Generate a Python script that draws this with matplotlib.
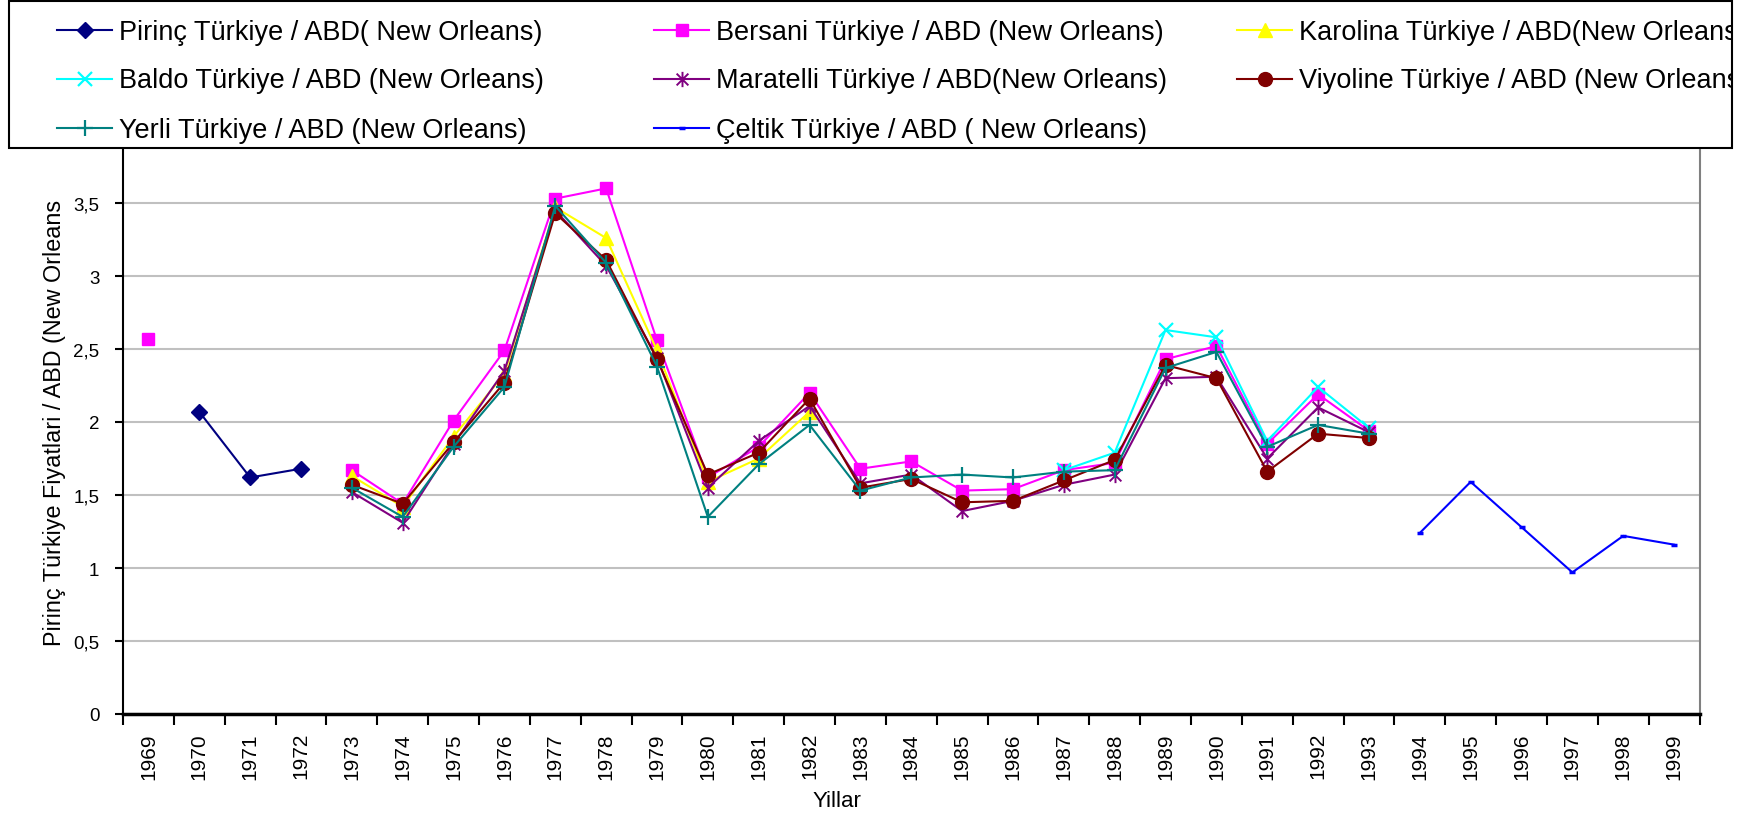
import matplotlib
matplotlib.use("Agg")
import matplotlib.pyplot as plt
import numpy as np
from matplotlib.lines import Line2D
from matplotlib.patches import Rectangle
from matplotlib.path import Path

plt.rcParams['font.family'] = ['Liberation Sans', 'DejaVu Sans']

nan = np.nan
years = ["1969", "1970", "1971", "1972", "1973", "1974", "1975", "1976", "1977", "1978",
         "1979", "1980", "1981", "1982", "1983", "1984", "1985", "1986", "1987", "1988",
         "1989", "1990", "1991", "1992", "1993", "1994", "1995", "1996", "1997", "1998", "1999"]

# values per year, nan = no data
pirinc = [nan, 2.07, 1.62, 1.68, nan, nan, nan, nan, nan, nan,
          nan, nan, nan, nan, nan, nan, nan, nan, nan, nan,
          nan, nan, nan, nan, nan, nan, nan, nan, nan, nan, nan]
bersani = [2.57, nan, nan, nan, 1.67, 1.44, 2.01, 2.49, 3.53, 3.60,
           2.56, 1.62, 1.83, 2.20, 1.68, 1.73, 1.53, 1.54, 1.67, 1.72,
           2.43, 2.52, 1.85, 2.19, 1.94, nan, nan, nan, nan, nan, nan]
karolina = [nan, nan, nan, nan, 1.63, 1.42, 1.90, 2.33, 3.47, 3.26,
            2.49, 1.59, 1.75, 2.07, nan, nan, nan, nan, nan, nan,
            nan, nan, nan, nan, nan, nan, nan, nan, nan, nan, nan]
baldo = [nan, nan, nan, nan, nan, nan, nan, nan, nan, nan,
         nan, nan, nan, nan, nan, nan, nan, nan, 1.67, 1.79,
         2.63, 2.58, 1.87, 2.24, 1.96, nan, nan, nan, nan, nan, nan]
maratelli = [nan, nan, nan, nan, 1.52, 1.31, 1.85, 2.35, 3.45, 3.07,
             2.44, 1.55, 1.87, 2.11, 1.58, 1.64, 1.39, 1.46, 1.57, 1.64,
             2.30, 2.31, 1.75, 2.10, 1.93, nan, nan, nan, nan, nan, nan]
viyoline = [nan, nan, nan, nan, 1.57, 1.44, 1.86, 2.27, 3.43, 3.11,
            2.43, 1.64, 1.79, 2.16, 1.55, 1.61, 1.45, 1.46, 1.60, 1.74,
            2.39, 2.30, 1.66, 1.92, 1.89, nan, nan, nan, nan, nan, nan]
yerli = [nan, nan, nan, nan, 1.55, 1.35, 1.83, 2.24, 3.48, 3.09,
         2.38, 1.35, 1.71, 1.98, 1.53, 1.62, 1.64, 1.62, 1.66, 1.67,
         2.37, 2.48, 1.83, 1.98, 1.92, nan, nan, nan, nan, nan, nan]
celtik = [nan, nan, nan, nan, nan, nan, nan, nan, nan, nan,
          nan, nan, nan, nan, nan, nan, nan, nan, nan, nan,
          nan, nan, nan, nan, nan, 1.24, 1.59, 1.28, 0.97, 1.22, 1.16]

labels = ["Pirinç Türkiye / ABD( New Orleans)",
          "Bersani Türkiye / ABD (New Orleans)",
          "Karolina Türkiye / ABD(New Orleans)",
          "Baldo Türkiye / ABD (New Orleans)",
          "Maratelli Türkiye / ABD(New Orleans)",
          "Viyoline Türkiye / ABD (New Orleans)",
          "Yerli Türkiye / ABD (New Orleans)",
          "Çeltik Türkiye / ABD ( New Orleans)"]

# excel style asterisk: x plus a vertical bar
star = Path([(-1, -1), (1, 1), (-1, 1), (1, -1), (0, -1.3), (0, 1.3)],
            [Path.MOVETO, Path.LINETO, Path.MOVETO, Path.LINETO, Path.MOVETO, Path.LINETO])

styles = [
    dict(color="#000080", marker="D", ms=8, mfc="#000080", mec="#000080"),
    dict(color="#FF00FF", marker="s", ms=9, mfc="#FF00FF", mec="#FF00FF"),
    dict(color="#FFFF00", marker="^", ms=10, mfc="#FFFF00", mec="#FFFF00"),
    dict(color="#00FFFF", marker="x", ms=10, mew=1.6),
    dict(color="#800080", marker=star, ms=11, mew=1.4),
    dict(color="#800000", marker="o", ms=10, mfc="#800000", mec="#800000"),
    dict(color="#008080", marker="+", ms=12, mew=1.6),
    dict(color="#0000FF", marker="_", ms=5, mew=2.5),
]
series = [pirinc, bersani, karolina, baldo, maratelli, viyoline, yerli, celtik]

W, H = 1744, 820
fig = plt.figure(figsize=(W / 100, H / 100), dpi=100)
ax = fig.add_axes([123 / W, 105 / H, (1699.5 - 123) / W, 584 / H])

x = np.arange(len(years))
for vals, st in zip(series, styles):
    ax.plot(x, np.array(vals, dtype=float), lw=1.5, **st)

ax.set_xlim(-0.5, len(years) - 0.5)
ax.set_ylim(0, 4)
ax.set_yticks(np.arange(0, 4.01, 0.5))
ax.set_yticklabels(["0", "0,5", "1", "1,5", "2", "2,5", "3", "3,5", "4"])
ax.yaxis.grid(True, color="#c0c0c0", lw=1.5)
ax.set_axisbelow(True)

ax.set_xticks(np.arange(-0.5, len(years), 1.0))
ax.set_xticklabels([])
ax.set_xticks(x, minor=True)
ax.set_xticklabels(years, minor=True, rotation=90, fontsize=15)
ax.tick_params(axis="x", which="major", length=8, width=1.5, direction="out")
ax.tick_params(axis="x", which="minor", length=0, pad=13)
ax.tick_params(axis="y", length=6, width=1.5, pad=11, labelsize=13.5)

ax.spines["top"].set_visible(False)
ax.spines["left"].set_linewidth(1.5)
ax.spines["bottom"].set_linewidth(2.5)
ax.spines["right"].set_color("#808080")
ax.spines["right"].set_linewidth(1.5)

ax.set_ylabel("Pirinç Türkiye Fiyatlari / ABD (New Orleans", fontsize=16.8)
ax.yaxis.set_label_coords((66 - 123) / 1576.5, 0.5)
ax.set_xlabel("Yillar", fontsize=16)
ax.xaxis.set_label_coords((837 - 123) / 1576.5, (715 - 802) / 584)
ax.xaxis.label.set_va("center")

# legend box drawn by hand so the third column is cut off like the original
box = Rectangle((9 / W, 1 - 149 / H), (1732 - 9) / W, 147 / H, transform=fig.transFigure,
                fc="white", ec="black", lw=1.5, zorder=10)
fig.add_artist(box)

col_x = [57, 654, 1237]
row_y = [30.5, 79.5, 128.5]
hlen = 55
for i, (lab, st) in enumerate(zip(labels, styles)):
    r, c = divmod(i, 3)
    x0 = col_x[c]
    yy = 1 - row_y[r] / H
    hx = [x0 / W, (x0 + hlen / 2) / W, (x0 + hlen) / W]
    ln = Line2D(hx, [yy] * 3, lw=1.5, markevery=[1], transform=fig.transFigure, zorder=11, **st)
    fig.add_artist(ln)
    t = fig.text((x0 + hlen + 7) / W, 1 - (row_y[r] + 9) / H, lab, fontsize=19.5,
                 va="baseline", ha="left", zorder=12)
    t.set_clip_path(box)

fig.savefig("out.png", dpi=100)
